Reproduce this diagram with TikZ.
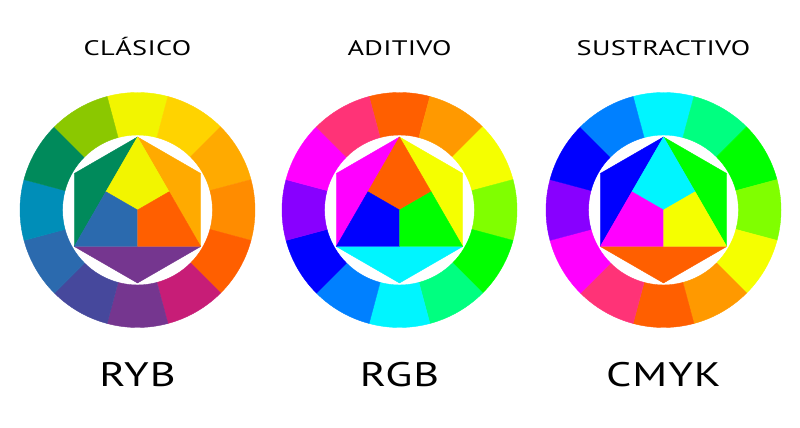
\documentclass[tikz,border=0pt]{standalone}
\usepackage{fontspec}
\setmainfont{PT Sans}
\newfontfamily\titlefont[FakeStretch=1.35, LetterSpace=1.5]{PT Sans}
\newfontfamily\modelfont[FakeStretch=1.3, LetterSpace=3]{PT Sans}
\usepackage{tikz}
\usetikzlibrary{calc}

% traditional (RYB) wheel
\definecolor{rybYellow}{HTML}{F2F500}
\definecolor{rybGold}{HTML}{FFD300}
\definecolor{rybAmber}{HTML}{FFAA00}
\definecolor{rybOrange}{HTML}{FF8C00}
\definecolor{rybRed}{HTML}{FF5F00}
\definecolor{rybMagenta}{HTML}{C71D77}
\definecolor{rybPurple}{HTML}{75368F}
\definecolor{rybIndigo}{HTML}{46489C}
\definecolor{rybBlue}{HTML}{2B6AAE}
\definecolor{rybTeal}{HTML}{008EB8}
\definecolor{rybGreen}{HTML}{008A5B}
\definecolor{rybLime}{HTML}{8BC800}
% light / ink wheels
\definecolor{vermilion}{HTML}{FF5F00}
\definecolor{amber}{HTML}{FF9900}
\definecolor{lemon}{HTML}{F5FF00}
\definecolor{chartreuse}{HTML}{80FF00}
\definecolor{lime}{HTML}{00FF00}
\definecolor{spring}{HTML}{00FF80}
\definecolor{aqua}{HTML}{00F5FF}
\definecolor{azure}{HTML}{0080FF}
\definecolor{pureblue}{HTML}{0000FF}
\definecolor{vio}{HTML}{8800FF}
\definecolor{fuchsia}{HTML}{FF00FF}
\definecolor{rose}{HTML}{FF3377}

\begin{document}
\begin{tikzpicture}[x=1pt, y=1pt,
  title/.style={anchor=base, font=\titlefont\fontsize{21}{21}\selectfont},
  model/.style={anchor=base, font=\modelfont\fontsize{34}{34}\selectfont},
  seg/.style={line width=0.4pt, line join=round}]
\useasboundingbox (0,0) rectangle (800,428);

\foreach \cx/\wn/\ttl/\lbl/\ring/\cT/\cL/\cR/\sL/\sR/\sB in {
  137.5/ryb/CLÁSICO/RYB/{rybYellow,rybGold,rybAmber,rybOrange,rybRed,rybMagenta,rybPurple,rybIndigo,rybBlue,rybTeal,rybGreen,rybLime}/rybYellow/rybBlue/rybRed/rybGreen/rybAmber/rybPurple,
  399.5/rgb/ADITIVO/RGB/{vermilion,amber,lemon,chartreuse,lime,spring,aqua,azure,pureblue,vio,fuchsia,rose}/vermilion/pureblue/lime/fuchsia/lemon/aqua,
  663.5/cmyk/SUSTRACTIVO/CMYK/{aqua,spring,lime,chartreuse,lemon,amber,vermilion,rose,fuchsia,vio,pureblue,azure}/aqua/fuchsia/lemon/pureblue/lime/vermilion}{
  \begin{scope}[shift={(\cx,218)}]
    % outer ring, twelve hues clockwise from the top
    \foreach \c [count=\i from 0] in \ring
      \fill[\c, draw=\c, seg] (105-30*\i:117.5) arc[start angle=105-30*\i, end angle=75-30*\i, radius=117.5]
        -- (75-30*\i:75) arc[start angle=75-30*\i, end angle=105-30*\i, radius=75] -- cycle;
    % hexagon corners and the centre triangle
    \coordinate (\wn-o)  at (0,0);
    \coordinate (\wn-t)  at (90:73);
    \coordinate (\wn-ul) at (150:73);
    \coordinate (\wn-ll) at (210:73);
    \coordinate (\wn-b)  at (270:73);
    \coordinate (\wn-lr) at (330:73);
    \coordinate (\wn-ur) at (30:73);
    \coordinate (\wn-ml) at ($(\wn-t)!0.5!(\wn-ll)$);
    \coordinate (\wn-mr) at ($(\wn-t)!0.5!(\wn-lr)$);
    \coordinate (\wn-mb) at ($(\wn-ll)!0.5!(\wn-lr)$);
    % secondary triangles
    \fill[\sL, draw=\sL, seg] (\wn-t) -- (\wn-ul) -- (\wn-ll) -- cycle;
    \fill[\sR, draw=\sR, seg] (\wn-t) -- (\wn-ur) -- (\wn-lr) -- cycle;
    \fill[\sB, draw=\sB, seg] (\wn-ll) -- (\wn-b) -- (\wn-lr) -- cycle;
    % primaries
    \fill[\cT, draw=\cT, seg] (\wn-t) -- (\wn-mr) -- (\wn-o) -- (\wn-ml) -- cycle;
    \fill[\cL, draw=\cL, seg] (\wn-ll) -- (\wn-ml) -- (\wn-o) -- (\wn-mb) -- cycle;
    \fill[\cR, draw=\cR, seg] (\wn-lr) -- (\wn-mb) -- (\wn-o) -- (\wn-mr) -- cycle;
  \end{scope}
  \node[title] (\wn-title) at (\cx,372) {\ttl};
  \node[model] (\wn-model) at (\cx,41) {\lbl};
}
\end{tikzpicture}
\end{document}
